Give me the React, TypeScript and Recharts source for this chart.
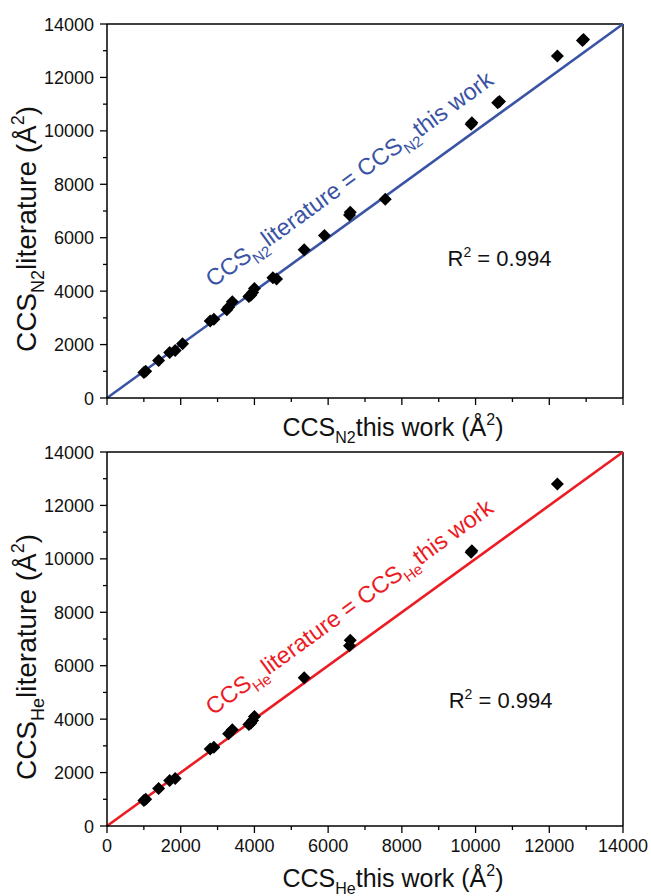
import {
  ScatterChart,
  Scatter,
  XAxis,
  YAxis,
  ReferenceLine,
  ReferenceDot,
} from 'recharts'

// CCS values (Å²)
const n2ThisWork = [1000, 1050, 1400, 1700, 1850, 2050, 2800, 2900, 3250, 3300, 3400, 3850, 3900, 3950, 4000, 4500, 4600, 5350, 5900, 6580, 6600, 7550, 9880, 9900, 10600, 10650, 12220, 12900, 12930]
const n2Literature = [950, 1000, 1400, 1700, 1780, 2030, 2880, 2950, 3300, 3400, 3600, 3800, 3850, 3950, 4100, 4500, 4450, 5550, 6080, 6850, 6950, 7440, 10250, 10300, 11050, 11100, 12800, 13380, 13420]

const heThisWork = [1000, 1050, 1400, 1700, 1850, 2800, 2900, 3300, 3400, 3850, 3900, 3950, 4000, 5350, 6580, 6600, 9880, 9900, 12220]
const heLiterature = [950, 1000, 1400, 1700, 1780, 2880, 2950, 3450, 3600, 3800, 3850, 3950, 4100, 5550, 6750, 6950, 10250, 10300, 12800]

const axisTicks = [0, 1000, 2000, 3000, 4000, 5000, 6000, 7000, 8000, 9000, 10000, 11000, 12000, 13000, 14000]
const AXIS_MAX = 14000

const FONT = '"Liberation Sans", Arial, sans-serif'

function toPoints(xs: number[], ys: number[]) {
  return xs.map((x, i) => ({ x, y: ys[i] }))
}

function Diamond(props: any) {
  const { cx, cy } = props
  const r = 6.5
  return (
    <path
      d={`M${cx},${cy - r}L${cx + r},${cy}L${cx},${cy + r}L${cx - r},${cy}Z`}
      fill="#000"
    />
  )
}

function XTick(props: any) {
  const { x, y, payload, showLabel } = props
  const major = payload.value % 2000 === 0
  return (
    <g>
      <line x1={x} x2={x} y1={y} y2={y + (major ? 7 : 4)} stroke="#000" strokeWidth={1.3} />
      {showLabel && major && (
        <text x={x} y={y + 26} textAnchor="middle" fontSize={18} fontFamily={FONT} fill="#111">
          {payload.value}
        </text>
      )}
    </g>
  )
}

function YTick(props: any) {
  const { x, y, payload } = props
  const major = payload.value % 2000 === 0
  return (
    <g>
      <line x1={x} x2={x - (major ? 7 : 4)} y1={y} y2={y} stroke="#000" strokeWidth={1.3} />
      {major && (
        <text x={x - 13} y={y + 6.5} textAnchor="end" fontSize={18} fontFamily={FONT} fill="#111">
          {payload.value}
        </text>
      )}
    </g>
  )
}

function CcsPanel({
  points,
  gas,
  color,
  top,
  height,
  marginTop,
  axisHeight,
  titleOffset,
  showXLabels,
  r2Pos,
}: {
  points: { x: number; y: number }[]
  gas: string
  color: string
  top: number
  height: number
  marginTop: number
  axisHeight: number
  titleOffset: number
  showXLabels: boolean
  r2Pos: { x: number; y: number }
}) {
  const xTitle = ({ viewBox }: any) => {
    const cx = viewBox.x + viewBox.width / 2 + 28
    const by = viewBox.y + titleOffset
    return (
      <text x={cx} y={by} textAnchor="middle" fontSize={25} fontFamily={FONT} fill="#111">
        CCS
        <tspan dy={7} fontSize={16}>{gas}</tspan>
        <tspan dy={-7}>this work (Å</tspan>
        <tspan dy={-11} fontSize={16}>2</tspan>
        <tspan dy={11}>)</tspan>
      </text>
    )
  }

  const yTitle = ({ viewBox }: any) => {
    const bx = 36
    const cy = viewBox.y + viewBox.height / 2 + 18
    return (
      <text
        x={bx}
        y={cy}
        transform={`rotate(-90, ${bx}, ${cy})`}
        textAnchor="middle"
        fontSize={28}
        fontFamily={FONT}
        fill="#111"
      >
        CCS
        <tspan dy={8} fontSize={18}>{gas}</tspan>
        <tspan dy={-8}>literature (Å</tspan>
        <tspan dy={-12} fontSize={18}>2</tspan>
        <tspan dy={12}>)</tspan>
      </text>
    )
  }

  const diagText = (p: any) => {
    const { cx, cy } = p
    return (
      <text
        x={cx}
        y={cy}
        transform={`rotate(-36, ${cx}, ${cy})`}
        textAnchor="middle"
        fontSize={23.5}
        fontFamily={FONT}
        fill={color}
      >
        CCS
        <tspan dy={7} fontSize={15}>{gas}</tspan>
        <tspan dy={-7}>literature = CCS</tspan>
        <tspan dy={7} fontSize={15}>{gas}</tspan>
        <tspan dy={-7}>this work</tspan>
      </text>
    )
  }

  const r2Text = (p: any) => {
    const { cx, cy } = p
    return (
      <text x={cx} y={cy} fontSize={22} fontFamily={FONT} fill="#111">
        R<tspan dy={-9} fontSize={14}>2</tspan>
        <tspan dy={9}> = 0.994</tspan>
      </text>
    )
  }

  return (
    <div style={{ position: 'absolute', left: 0, top }}>
      <ScatterChart
        width={651}
        height={height}
        margin={{ top: marginTop, right: 28, bottom: 0, left: 0 }}
      >
        <XAxis
          type="number"
          dataKey="x"
          domain={[0, AXIS_MAX]}
          ticks={axisTicks}
          interval={0}
          allowDataOverflow
          height={axisHeight}
          tickSize={0}
          tickMargin={0}
          tickLine={false}
          axisLine={{ stroke: '#000', strokeWidth: 1.5 }}
          tick={<XTick showLabel={showXLabels} />}
          label={{ content: xTitle }}
        />
        <YAxis
          type="number"
          dataKey="y"
          domain={[0, AXIS_MAX]}
          ticks={axisTicks}
          interval={0}
          allowDataOverflow
          width={107}
          tickSize={0}
          tickMargin={0}
          tickLine={false}
          axisLine={{ stroke: '#000', strokeWidth: 1.5 }}
          tick={<YTick />}
          label={{ content: yTitle }}
        />
        <ReferenceLine y={AXIS_MAX} stroke="#000" strokeWidth={1.5} />
        <ReferenceLine x={AXIS_MAX} stroke="#000" strokeWidth={1.5} />
        <ReferenceLine
          segment={[{ x: 0, y: 0 }, { x: AXIS_MAX, y: AXIS_MAX }]}
          stroke={color}
          strokeWidth={2.6}
        />
        <ReferenceDot x={6700} y={7950} r={0} shape={diagText} />
        <ReferenceDot x={r2Pos.x} y={r2Pos.y} r={0} shape={r2Text} />
        <Scatter data={points} shape={<Diamond />} isAnimationActive={false} />
      </ScatterChart>
    </div>
  )
}

export default function App() {
  return (
    <div style={{ position: 'absolute', left: 0, top: 0, width: 651, height: 896, background: '#fff' }}>
      <CcsPanel
        points={toPoints(n2ThisWork, n2Literature)}
        gas="N2"
        color="#3a53a4"
        top={0}
        height={452}
        marginTop={24}
        axisHeight={54}
        titleOffset={38}
        showXLabels={false}
        r2Pos={{ x: 9240, y: 4940 }}
      />
      <CcsPanel
        points={toPoints(heThisWork, heLiterature)}
        gas="He"
        color="#ec1c24"
        top={428}
        height={468}
        marginTop={24}
        axisHeight={70}
        titleOffset={61}
        showXLabels={true}
        r2Pos={{ x: 9270, y: 4420 }}
      />
    </div>
  )
}
